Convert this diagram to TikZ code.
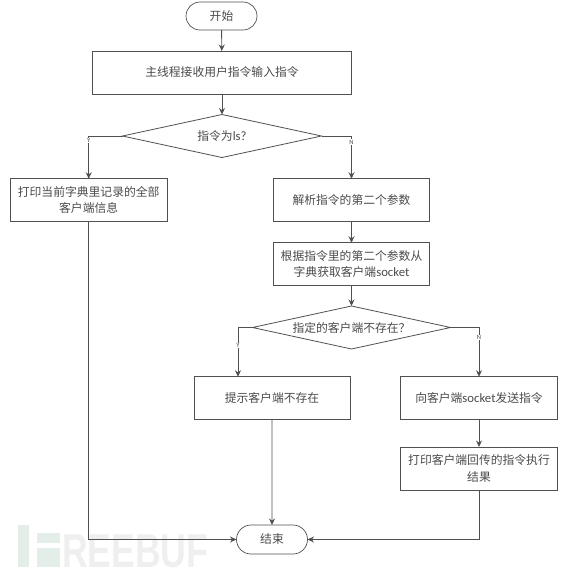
\documentclass[tikz,border=0pt]{standalone}
\usepackage{fontspec}
\setmainfont{Carlito}[Scale=1.08]
\newfontfamily\cjk{Noto Sans CJK SC}
\newfontfamily\wmfont{Liberation Sans}
\usetikzlibrary{shapes.geometric,shapes.misc,arrows.meta}
\definecolor{ln}{HTML}{505050}
\definecolor{tx}{HTML}{4A4A4A}
\definecolor{wmg}{HTML}{E3EEE8}
\definecolor{wmt}{HTML}{EFEFEF}
\tikzset{
  every node/.style={text=tx,font=\cjk\fontsize{11.8}{16.5}\selectfont,align=center,inner sep=0pt,outer sep=0pt},
  box/.style={draw=ln,line width=0.8pt},
  term/.style={draw=ln,line width=0.7pt,rounded rectangle},
  dec/.style={draw=ln,line width=0.8pt,diamond},
  flow/.style={draw=ln,line width=0.9pt,-{Stealth[length=6.5pt,width=6pt]}},
  lab/.style={fill=white,font=\fontsize{6}{7}\selectfont,inner sep=0.6pt},
}
\newcommand{\lat}[1]{{\fontspec{Carlito}[Scale=1.08]#1}}
\begin{document}
\begin{tikzpicture}[x=1pt,y=-1pt]
\useasboundingbox (0,0) rectangle (568,574);
% watermark
\fill[wmg] (18,525) rectangle (29,567);
\fill[wmg] (37,533) rectangle (60,543);
\fill[wmg] (37,548) rectangle (60,567);
\node[text=wmt,anchor=base west,font=\wmfont\bfseries\fontsize{47.5}{48}\selectfont,xscale=0.75] (wm) at (62,567) {REEBUF};
% nodes
\node[term,minimum width=71pt,minimum height=28pt] (start) at (221.5,16) {开始};
\node[box,minimum width=259pt,minimum height=43pt] (main) at (222,72.5) {主线程接收用户指令输入指令};
\node[dec,minimum width=199pt,minimum height=43pt,aspect=4.6] (d1) at (222,136) {指令为\lat{ls?}};
\node[box,minimum width=156.5pt,minimum height=42.5pt] (print) at (88.7,200) {打印当前字典里记录的全部\\客户端信息};
\node[box,minimum width=156pt,minimum height=42.5pt] (parse) at (351.5,200) {解析指令的第二个参数};
\node[box,minimum width=156pt,minimum height=42.5pt] (fetch) at (351.5,264) {根据指令里的第二个参数从\\字典获取客户端\lat{socket}};
\node[dec,minimum width=198pt,minimum height=43pt,aspect=4.6] (d2) at (351.5,327.5) {指定的客户端不存在？};
\node[box,minimum width=156pt,minimum height=42.5pt] (none) at (272,398) {提示客户端不存在};
\node[box,minimum width=157pt,minimum height=42.5pt] (send) at (479,398) {向客户端\lat{socket}发送指令};
\node[box,minimum width=157pt,minimum height=43pt] (res) at (479,468.5) {打印客户端回传的指令执行\\结果};
\node[term,minimum width=71pt,minimum height=29pt] (end) at (272,539.5) {结束};
\coordinate (noneIn) at (238,376.75);
% connectors
\draw[flow] (start) -- (main);
\draw[flow] (main) -- (d1);
\draw[flow] (d1.west) -| (print.north) node[lab,pos=0.55] {Y};
\draw[flow] (d1.east) -| (parse.north) node[lab,pos=0.57] {N};
\draw[flow] (parse) -- (fetch);
\draw[flow] (fetch) -- (d2);
\draw[flow] (d2.west) -| (noneIn) node[lab,pos=0.68] {Y};
\draw[flow] (d2.east) -| (send.north) node[lab,pos=0.6] {N};
\draw[flow] (send) -- (res);
\draw[flow] (none) -- (end);
\draw[flow] (print.south) |- (end.west);
\draw[flow] (res.south) |- (end.east);
\end{tikzpicture}
\end{document}
